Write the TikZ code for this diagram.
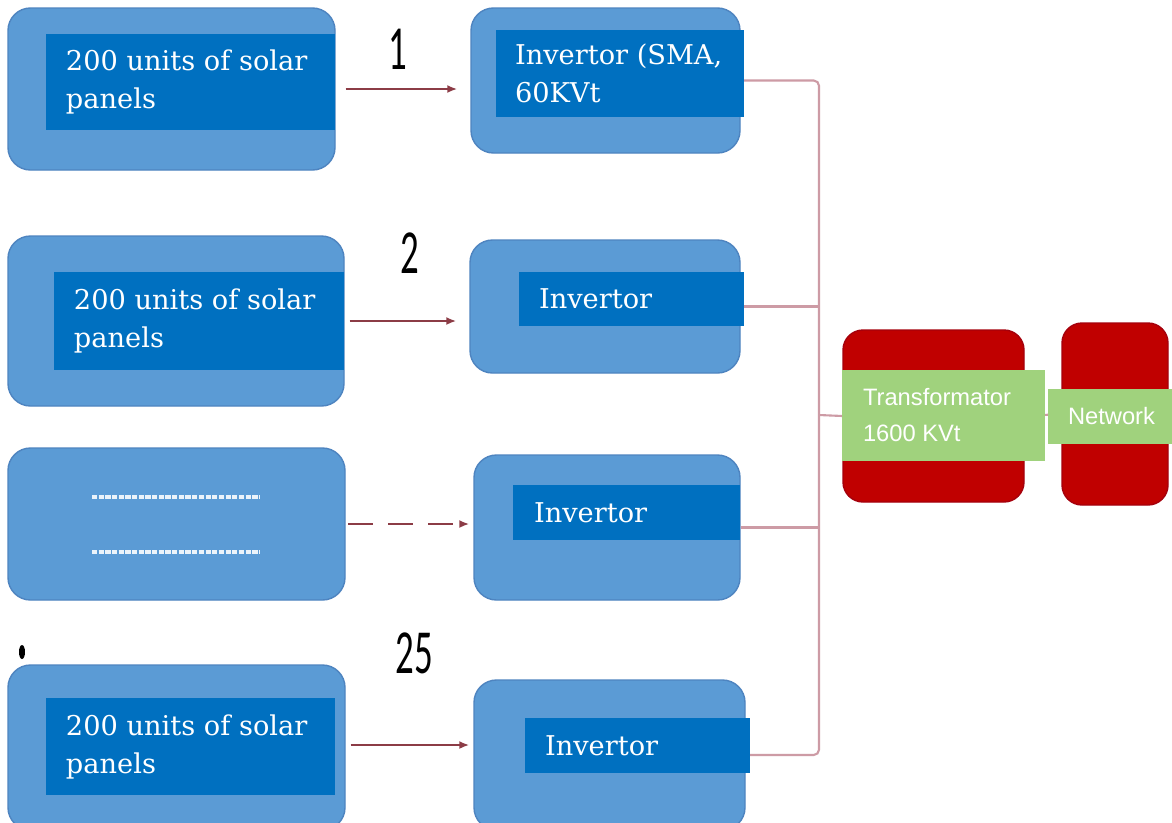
\documentclass[tikz,border=0pt]{standalone}
\usepackage{fontspec}
\setmainfont{DejaVu Serif}
\newfontfamily\numfont{Carlito}
\newfontfamily\labelfont{Liberation Sans}
\usepackage{graphicx}
\usepackage{xcolor}
\usepackage{tikz}
\usetikzlibrary{positioning,arrows.meta,fit}

\definecolor{panelblue}{RGB}{91,155,213}
\definecolor{paneledge}{RGB}{78,132,192}
\definecolor{tagblue}{RGB}{0,112,192}
\definecolor{boxred}{RGB}{192,0,0}
\definecolor{rededge}{RGB}{165,0,12}
\definecolor{taggreen}{RGB}{160,210,125}
\definecolor{arrred}{RGB}{140,60,70}
\definecolor{buspink}{RGB}{205,155,165}

\begin{document}
\begin{tikzpicture}[
  x=0.02cm, y=-0.02cm,
  panel/.style={draw=paneledge, fill=panelblue, rounded corners=4.5mm, inner sep=0pt, line width=0.8pt},
  redbox/.style={draw=rededge, fill=boxred, rounded corners=4mm, inner sep=0pt, line width=0.8pt},
  tag/.style={fill=tagblue, inner sep=0pt},
  gtag/.style={fill=taggreen, inner sep=0pt},
  txt/.style={text=white, align=left, inner sep=0pt, font=\fontsize{15.5}{21.6}\selectfont},
  gtxt/.style={text=white, align=left, inner sep=0pt, font=\labelfont\fontsize{13.5}{20.5}\selectfont},
  num/.style={font=\numfont\fontsize{21}{21}\selectfont, inner sep=0pt},
  arr/.style={-{Latex[length=2mm,width=1.6mm]}, draw=arrred, line width=1.2pt},
  bus/.style={draw=buspink, line width=1.2pt},
  blank/.style={white!88!panelblue, line width=2.2pt, dash pattern=on 3pt off 0.8pt}
]
\useasboundingbox (0,0) rectangle (1172,822);
\clip (0,0) rectangle (1172,822);
\fill[white] (0,0) rectangle (1172,822);

% panel groups
\node[panel, fit={(8,8) (335,170)}] (pan1) {};
\node[panel, fit={(8,236) (344,406)}] (pan2) {};
\node[panel, fit={(8,448) (345,600)}] (pan3) {};
\node[panel, fit={(8,665) (345,830)}] (pan4) {};
\draw[blank] (92,497) -- (260,497);
\draw[blank] (92,552) -- (260,552);
\fill (22,652) ellipse [x radius=0.06cm, y radius=0.14cm];

% invertors
\node[panel, fit={(471,8) (740,153)}] (inv1) {};
\node[panel, fit={(470,240) (740,373)}] (inv2) {};
\node[panel, fit={(474,455) (740,600)}] (inv3) {};
\node[panel, fit={(474,680) (745,830)}] (inv4) {};

% transformator and network
\node[redbox, fit={(843,330) (1024,502)}] (trans) {};
\node[redbox, fit={(1062,323) (1168,505)}] (net) {};

\draw[arr, shorten <=2mm, shorten >=2.6mm] (pan1.east) -- (pan1.east -| inv1.west)
  node[num, midway, xshift=-0.1cm, yshift=0.8cm] (n1) {\scalebox{1}[1.7]{1}};
\draw[arr, shorten <=1mm, shorten >=2.6mm] (pan2.east) -- (pan2.east -| inv2.west)
  node[num, midway, xshift=0.05cm, yshift=1.36cm] (n2) {\scalebox{1}[1.7]{2}};
\draw[arr, dash pattern=on 5mm off 3mm, shorten <=0.5mm, shorten >=0.8mm] (pan3.east) -- (pan3.east -| inv3.west);
\draw[arr, shorten <=1mm, shorten >=0.8mm] ([yshift=0.05cm]pan4.east) -- ([yshift=0.05cm]pan4.east -| inv4.west)
  node[num, midway, xshift=0.1cm, yshift=1.84cm] (n25) {\scalebox{1}[1.7]{25}};

% collecting bus
\coordinate (bus) at (819,415);
\draw[bus, rounded corners=3pt] (inv1.east) -| (bus) |- (inv4.east);
\draw[bus] (inv2.east) -- (inv2.east -| bus);
\draw[bus] (inv3.east) -- (inv3.east -| bus);
\draw[bus] (bus) -- (trans.west);
\draw[bus] (trans.east) -- (net.west);

% labels
\node[tag, fit={(46,34) (335,130)}] (tag1) {};
\node[txt, right=4mm of tag1.west] (tag1t) {200 units of solar\\panels};
\node[tag, fit={(54,272) (344,370)}] (tag2) {};
\node[txt, right=4mm of tag2.west] (tag2t) {200 units of solar\\panels};
\node[tag, fit={(46,698) (335,795)}] (tag4) {};
\node[txt, right=4mm of tag4.west] (tag4t) {200 units of solar\\panels};

\node[tag, fit={(496,30) (744,117)}] (itag1) {};
\node[txt, right=3.8mm of itag1.west] (itag1t) {Invertor (SMA,\\60KVt};
\node[tag, fit={(519,272) (744,326)}] (itag2) {};
\node[txt, right=4mm of itag2.west] (itag2t) {Invertor};
\node[tag, fit={(513,485) (740,540)}] (itag3) {};
\node[txt, right=4.2mm of itag3.west] (itag3t) {Invertor};
\node[tag, fit={(525,718) (750,773)}] (itag4) {};
\node[txt, right=4mm of itag4.west] (itag4t) {Invertor};

\node[gtag, fit={(842,370) (1045,461)}] (gtag1) {};
\node[gtxt, right=4.2mm of gtag1.west] (gtag1t) {Transformator\\1600 KVt};
\node[gtag, fit={(1048,389) (1172,444)}] (gtag2) {};
\node[gtxt, right=4mm of gtag2.west] (gtag2t) {Network};
\end{tikzpicture}
\end{document}
